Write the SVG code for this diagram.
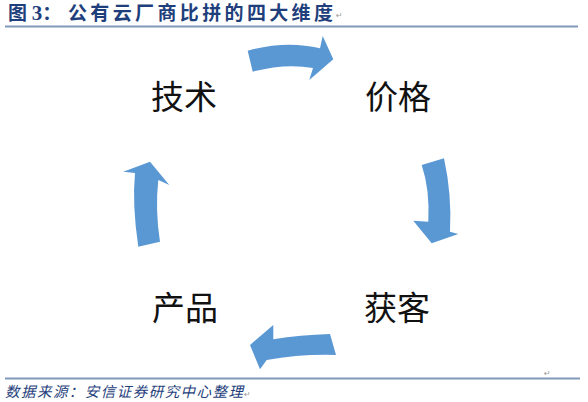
<svg xmlns="http://www.w3.org/2000/svg" width="588" height="402" viewBox="0 0 588 402">
<style>
.title{font-family:"Liberation Serif","Noto Sans CJK SC",serif;font-weight:bold;font-size:19px;fill:#1f3f7c}
.lbl{font-family:"Noto Sans CJK SC",sans-serif;font-size:33px;fill:#111}
.src{font-family:"Noto Sans CJK SC",sans-serif;font-style:italic;font-size:14.5px;fill:#1f3f7c}
.rule{stroke:#8197ba;stroke-width:2.2}
.arr{fill:#5a98d4}
.mark{font-family:"DejaVu Sans",sans-serif;font-size:8px;fill:#999}
</style>
<rect width="588" height="402" fill="#fff"/>
<g id="header">
<text class="title" x="8" y="20">图 <tspan font-size="21px">3</tspan>：</text>
<text class="title" x="68" y="20" textLength="265" lengthAdjust="spacing">公有云厂商比拼的四大维度</text>
<text class="mark" x="336" y="18">↵</text>
<line class="rule" x1="5" y1="26.5" x2="578" y2="26.5"/>
</g>
<g id="connectors">
<path class="arr" d="M247.7,50.7 Q286,40 320,48.3 L322.7,36 L333.3,59.3 L309.3,80 L313,68 Q285,63 252.7,71.7 Z"/>
<path class="arr" d="M421.7,165 L444,158.3 Q452,195 450,231.7 L458.3,234 L431.7,243.3 L413.3,220.7 L428.3,221.7 Q430,190 421.7,165 Z"/>
<path class="arr" d="M330,334 Q300,335 273.3,339.3 L273.3,325 L250,345 L260,369.3 L266.7,360 Q300,354 336,355 Z"/>
<path class="arr" d="M138.3,246.7 Q132,205 135,173 L123.3,171.7 L150,161.7 L169.3,185 L158.3,180 Q155,210 160,241.7 Z"/>
</g>
<g id="node-tech"><text class="lbl" x="184" y="109" text-anchor="middle">技术</text></g>
<g id="node-price"><text class="lbl" x="398" y="109" text-anchor="middle">价格</text></g>
<g id="node-acq"><text class="lbl" x="397" y="320" text-anchor="middle">获客</text></g>
<g id="node-product"><text class="lbl" x="185" y="320" text-anchor="middle">产品</text></g>
<g id="footer">
<text class="mark" x="544" y="376">↵</text>
<line class="rule" x1="5" y1="378.5" x2="580" y2="378.5"/>
<text class="src" x="5" y="397" textLength="238" lengthAdjust="spacing">数据来源：安信证券研究中心整理</text>
<text class="mark" x="244" y="397">↵</text>
</g>
</svg>
